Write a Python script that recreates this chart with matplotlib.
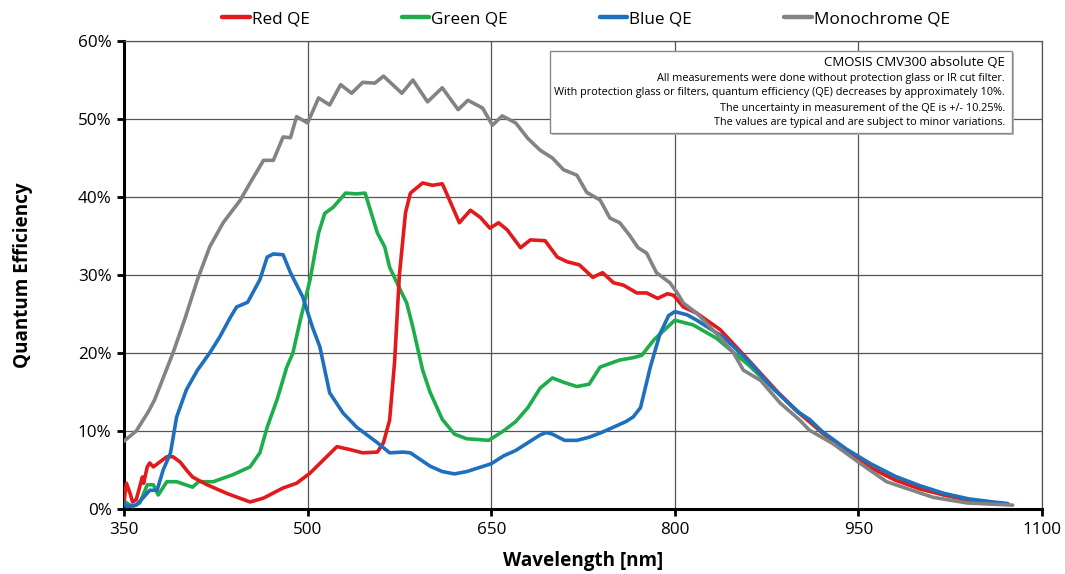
import numpy as np
import matplotlib.pyplot as plt
from matplotlib.ticker import FuncFormatter

plt.rcParams['font.family'] = ['Open Sans', 'DejaVu Sans']

# wavelengths [nm] and QE [%]
red_wl = [350, 352, 355, 357, 360, 365, 366, 369, 371, 374, 379, 385, 390, 396, 401, 406, 418, 434,
          453, 464, 480, 491, 502, 513, 524, 535, 545, 557, 562, 567, 571, 575, 580, 584, 594, 602,
          610, 614, 624, 633, 641, 649, 656, 663, 674, 682, 694, 704, 712, 722, 733, 741, 750, 758,
          769, 777, 786, 794, 799, 807, 818, 837, 859, 884, 900, 920, 940, 960, 980, 1000, 1020,
          1040, 1060, 1072]
red_qe = [1.0, 3.3, 2.0, 0.9, 1.2, 4.1, 3.3, 5.4, 5.9, 5.4, 6.0, 6.7, 6.7, 6.0, 5.0, 4.1, 3.1, 2.0,
          0.9, 1.4, 2.7, 3.3, 4.6, 6.3, 8.0, 7.6, 7.2, 7.3, 8.5, 11.4, 18.7, 30.0, 38.0, 40.5, 41.8, 41.5,
          41.7, 40.3, 36.7, 38.3, 37.4, 36.0, 36.7, 35.8, 33.5, 34.5, 34.4, 32.3, 31.7, 31.3, 29.7,
          30.3, 29.0, 28.7, 27.7, 27.7, 27.0, 27.6, 27.4, 25.9, 25.1, 23.0, 19.3, 15.0, 12.5, 9.9,
          7.4, 5.3, 3.7, 2.6, 1.8, 1.2, 0.8, 0.6]

green_wl = [350, 352, 357, 363, 369, 374, 378, 385, 393, 406, 411, 423, 439, 453, 461, 467, 475, 483,
            488, 494, 502, 509, 514, 521, 531, 540, 547, 557, 563, 567, 576, 581, 586, 594, 600, 610,
            620, 630, 640, 648, 660, 670, 680, 690, 700, 710, 720, 730, 739, 755, 766, 773, 783, 800,
            815, 834, 860, 880, 900, 920, 940, 960, 980, 1000, 1020, 1040, 1060, 1072]
green_qe = [1.0, 0.8, 0.3, 0.8, 3.1, 3.1, 1.8, 3.5, 3.5, 2.8, 3.5, 3.5, 4.4, 5.4, 7.2, 10.5, 14.0, 18.2,
            20.0, 24.2, 29.4, 35.4, 37.9, 38.7, 40.5, 40.4, 40.5, 35.4, 33.6, 31.0, 28.0, 26.4, 23.3,
            17.8, 15.0, 11.5, 9.6, 9.0, 8.9, 8.8, 10.0, 11.2, 13.0, 15.5, 16.8, 16.2, 15.7, 16.0, 18.2,
            19.1, 19.4, 19.7, 21.7, 24.2, 23.6, 21.9, 18.5, 15.5, 12.6, 9.8, 7.4, 5.3, 3.8, 2.6,
            1.8, 1.1, 0.7, 0.6]

blue_wl = [350, 352, 360, 366, 371, 377, 382, 388, 393, 401, 410, 420, 428, 437, 442, 451, 461, 467,
           472, 480, 486, 496, 504, 510, 518, 529, 540, 557, 567, 578, 584, 600, 610, 620, 630, 640,
           650, 660, 670, 680, 690, 695, 700, 710, 720, 730, 740, 750, 760, 766, 772, 780, 788, 795,
           800, 810, 818, 840, 860, 880, 900, 910, 920, 940, 960, 980, 1000, 1020, 1040, 1060, 1072]
blue_qe = [0.8, 0.3, 0.5, 1.5, 2.4, 2.4, 5.0, 7.2, 11.8, 15.3, 17.8, 20.0, 22.0, 24.6, 25.9, 26.5, 29.4,
           32.3, 32.7, 32.6, 30.3, 27.2, 23.3, 20.8, 14.9, 12.3, 10.5, 8.5, 7.2, 7.3, 7.2, 5.5, 4.8,
           4.5, 4.8, 5.3, 5.8, 6.8, 7.5, 8.5, 9.5, 9.8, 9.6, 8.8, 8.8, 9.2, 9.8, 10.5, 11.2, 11.8, 13.0,
           18.2, 22.5, 24.8, 25.3, 24.9, 24.2, 22.0, 19.0, 15.5, 12.5, 11.5, 10.0, 7.7, 5.8, 4.2, 3.0,
           2.0, 1.3, 0.9, 0.7]

mono_wl = [350, 360, 370, 375, 380, 390, 400, 410, 420, 431, 445, 453, 464, 472, 480, 486, 491, 500,
           509, 518, 527, 536, 545, 555, 562, 577, 586, 598, 610, 623, 631, 643, 651, 659, 670, 680,
           690, 700, 709, 720, 728, 739, 747, 755, 763, 770, 777, 785, 796, 802, 807, 818, 837, 848,
           856, 870, 886, 902, 910, 929, 951, 973, 1011, 1039, 1076]
mono_qe = [8.7, 10.0, 12.5, 14.0, 16.0, 20.0, 24.5, 29.4, 33.6, 36.7, 39.6, 41.8, 44.7, 44.7, 47.7,
           47.6, 50.3, 49.5, 52.7, 51.8, 54.4, 53.3, 54.7, 54.6, 55.5, 53.3, 55.0, 52.2, 54.0, 51.2,
           52.4, 51.4, 49.2, 50.4, 49.5, 47.5, 46.0, 45.0, 43.5, 42.8, 40.6, 39.6, 37.3, 36.7, 35.1,
           33.5, 32.8, 30.3, 29.0, 27.7, 26.4, 25.1, 22.0, 20.0, 17.8, 16.5, 13.6, 11.4, 10.1, 8.4,
           5.9, 3.5, 1.5, 0.77, 0.5]

note_title = 'CMOSIS CMV300 absolute QE'
note_lines = ['All measurements were done without protection glass or IR cut filter.',
              'With protection glass or filters, quantum efficiency (QE) decreases by approximately 10%.',
              'The uncertainty in measurement of the QE is +/- 10.25%.',
              'The values are typical and are subject to minor variations.']

fig = plt.figure(figsize=(10.65, 5.74), dpi=100)
ax = fig.add_axes([124/1065, 1-509/574, 918/1065, 468/574])

lw = 2.6
kw = dict(lw=lw, solid_joinstyle='round', solid_capstyle='round')
ax.plot(red_wl, red_qe, color='#e31a1c', label='Red QE', zorder=4, **kw)
ax.plot(green_wl, green_qe, color='#1ead4b', label='Green QE', zorder=3, **kw)
ax.plot(blue_wl, blue_qe, color='#1f6fbf', label='Blue QE', zorder=5, **kw)
ax.plot(mono_wl, mono_qe, color='#838383', label='Monochrome QE', zorder=6, **kw)

ax.set_xlim(350, 1100)
ax.set_ylim(0, 60)
ax.set_xticks(np.arange(350, 1101, 150))
ax.set_yticks(np.arange(0, 61, 10))
ax.yaxis.set_major_formatter(FuncFormatter(lambda v, p: '%d%%' % v))
ax.grid(True, color='#555555', lw=0.9)
ax.set_axisbelow(True)
for s in ['top', 'right']:
    ax.spines[s].set_color('#555555')
    ax.spines[s].set_linewidth(0.9)
for s in ['left', 'bottom']:
    ax.spines[s].set_linewidth(2.2)
ax.tick_params(direction='out', length=5, width=2, labelsize=12.3, pad=4)

ax.set_xlabel('Wavelength [nm]', fontsize=13.6, fontweight='bold', labelpad=10)
ax.set_ylabel('Quantum Efficiency', fontsize=13.6, fontweight='bold', labelpad=32)

leg = fig.legend(loc='center', bbox_to_anchor=(586/1065, 1-19/574), ncol=4, frameon=False,
                 fontsize=12.3, handlelength=1.6, handletextpad=0.12, columnspacing=5.4)
for h in leg.get_lines():
    h.set_linewidth(3.2)

# note box
box_l, box_r = 550/1065, 1012/1065
box_t, box_b = 1-51/574, 1-133/574
fig.patches.append(plt.Rectangle((box_l + 0.002, box_b - 0.004), box_r-box_l, box_t-box_b,
                                 transform=fig.transFigure, facecolor='#bbbbbb', edgecolor='none',
                                 zorder=9))
fig.patches.append(plt.Rectangle((box_l, box_b), box_r-box_l, box_t-box_b, transform=fig.transFigure,
                                 facecolor='white', edgecolor='#888888', lw=1, zorder=10))
fig.text(1005/1065, 1-63/574, note_title, ha='right', va='center', fontsize=9.5, zorder=11)
for i, t in enumerate(note_lines):
    fig.text(1005/1065, 1-(78+i*15)/574, t, ha='right', va='center', fontsize=7.8, zorder=11)

fig.savefig('out.png', dpi=100)
